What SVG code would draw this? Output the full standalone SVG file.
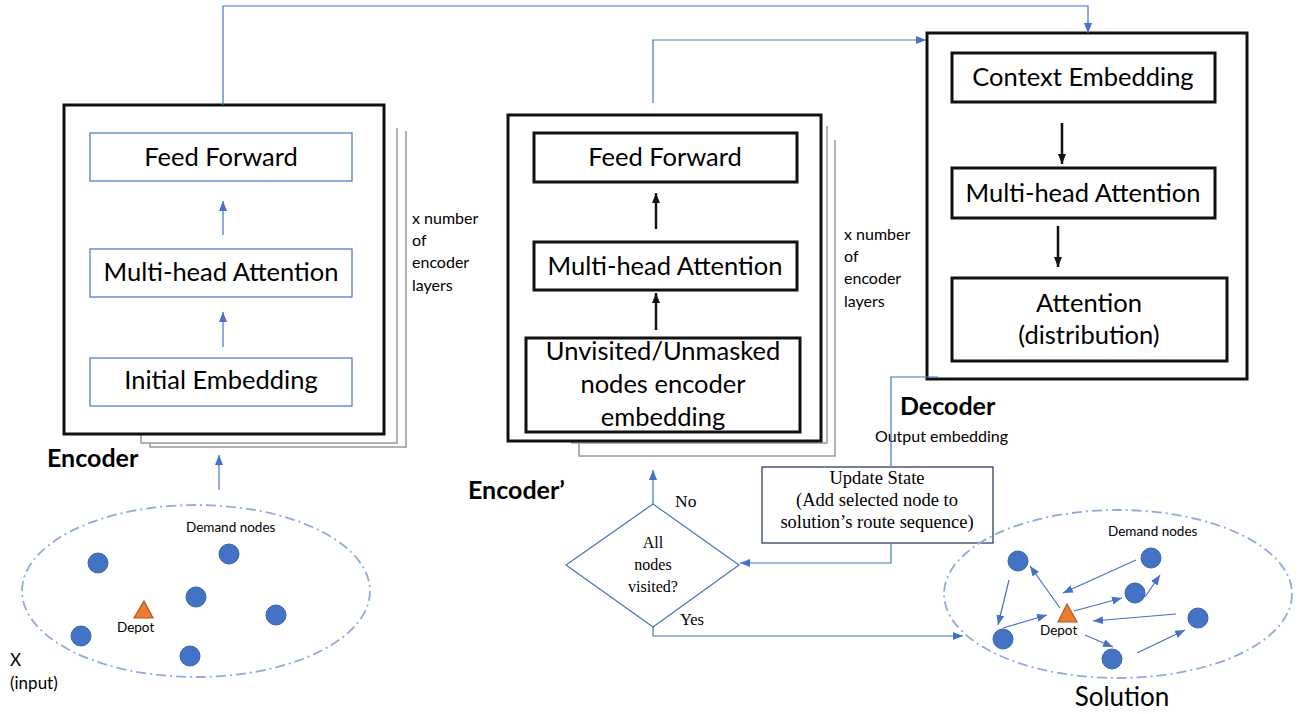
<svg xmlns="http://www.w3.org/2000/svg" width="1301" height="714" viewBox="0 0 1301 714">
<style>
.sans{font-family:Lato,"Liberation Sans",sans-serif;fill:#000}
.serif{font-family:"Liberation Serif","Times New Roman",serif;fill:#000}
.lbl{font-size:25.5px}
.small{font-size:16px}
.tiny{font-size:13.5px}
.bold{font-size:25px;font-weight:bold}
.outer{fill:#fff;stroke:#111;stroke-width:3}
.bbox{fill:#fff;stroke:#111;stroke-width:3}
.blbox{fill:#fff;stroke:#4472c4;stroke-width:1.2}
.stack{fill:none;stroke:#999;stroke-width:1.5}
.bl{fill:none;stroke:#4472c4;stroke-width:1.2}
.blk{fill:none;stroke:#111;stroke-width:2.5}
.ell{fill:none;stroke:#8faadc;stroke-width:1.8;stroke-dasharray:10 4 2 4}
.node{fill:#4472c4;stroke:#3a63ad;stroke-width:1}
.depot{fill:#ed7d31;stroke:#ae5a21;stroke-width:1.2}
</style>
<defs>
<marker id="ab" markerUnits="userSpaceOnUse" markerWidth="10" markerHeight="10" refX="10" refY="5" orient="auto"><path d="M0,1 L10,5 L0,9 z" fill="#4472c4"/></marker>
<marker id="ak" markerUnits="userSpaceOnUse" markerWidth="10" markerHeight="10" refX="10" refY="5" orient="auto"><path d="M0,1 L10,5 L0,9 z" fill="#111"/></marker>
</defs>

<g id="encoder">
<polyline class="stack" points="150,443 150,447 406,447 406,131"/>
<polyline class="stack" points="141,433 141,443 397,443 397,128"/>
<rect class="outer" x="64" y="105" width="320" height="329"/>
<rect class="blbox" x="90" y="133" width="262" height="48"/>
<text class="sans lbl" x="221" y="166" text-anchor="middle">Feed Forward</text>
<rect class="blbox" x="90" y="249" width="262" height="48"/>
<text class="sans lbl" x="221" y="281" text-anchor="middle">Multi-head Attention</text>
<rect class="blbox" x="90" y="358" width="262" height="48"/>
<text class="sans lbl" x="221" y="389" text-anchor="middle">Initial Embedding</text>
<line class="bl" x1="223" y1="235" x2="223" y2="201" marker-end="url(#ab)"/>
<line class="bl" x1="223" y1="347" x2="223" y2="312" marker-end="url(#ab)"/>
<text class="sans small" x="412" y="224">x number</text>
<text class="sans small" x="412" y="246">of</text>
<text class="sans small" x="412" y="268">encoder</text>
<text class="sans small" x="412" y="291">layers</text>
<text class="sans bold" x="47" y="467">Encoder</text>
</g>

<g id="encoder2">
<polyline class="stack" points="579,443 579,456 835,456 835,140"/>
<polyline class="stack" points="572,433 572,443 827,443 827,126"/>
<rect class="outer" x="508" y="115" width="313" height="326"/>
<rect class="bbox" x="534" y="133" width="263" height="49"/>
<text class="sans lbl" x="665" y="166" text-anchor="middle">Feed Forward</text>
<rect class="bbox" x="534" y="242" width="263" height="48"/>
<text class="sans lbl" x="665" y="275" text-anchor="middle">Multi-head Attention</text>
<rect class="bbox" x="526" y="338" width="274" height="94"/>
<text class="sans lbl" x="663" y="360" text-anchor="middle">Unvisited/Unmasked</text>
<text class="sans lbl" x="663" y="393" text-anchor="middle">nodes encoder</text>
<text class="sans lbl" x="663" y="426" text-anchor="middle">embedding</text>
<line class="blk" x1="656" y1="229" x2="656" y2="193" marker-end="url(#ak)"/>
<line class="blk" x1="656" y1="330" x2="656" y2="293" marker-end="url(#ak)"/>
<text class="sans small" x="844" y="240">x number</text>
<text class="sans small" x="844" y="262">of</text>
<text class="sans small" x="844" y="284">encoder</text>
<text class="sans small" x="844" y="307">layers</text>
<text class="sans bold" x="468" y="499">Encoder’</text>
</g>

<g id="decoder">
<rect class="outer" x="927" y="33" width="320" height="346"/>
<rect class="bbox" x="952" y="53" width="263" height="49"/>
<text class="sans lbl" x="1083" y="86" text-anchor="middle">Context Embedding</text>
<rect class="bbox" x="952" y="168" width="263" height="50"/>
<text class="sans lbl" x="1083" y="202" text-anchor="middle">Multi-head Attention</text>
<rect class="bbox" x="952" y="278" width="275" height="83"/>
<text class="sans lbl" x="1089" y="312" text-anchor="middle">Attention</text>
<text class="sans lbl" x="1089" y="344" text-anchor="middle">(distribution)</text>
<line class="blk" x1="1062" y1="123" x2="1062" y2="164" marker-end="url(#ak)"/>
<line class="blk" x1="1058" y1="226" x2="1058" y2="267" marker-end="url(#ak)"/>
<text class="sans bold" x="900" y="415">Decoder</text>
<text class="sans small" x="875" y="442">Output embedding</text>
</g>

<g id="update">
<rect x="762" y="467" width="231" height="76" fill="#fff" stroke="#1f2f5a" stroke-width="1.2"/>
<text class="serif" font-size="18.5" x="877" y="484" text-anchor="middle">Update State</text>
<text class="serif" font-size="18.5" x="877" y="506" text-anchor="middle">(Add selected node to</text>
<text class="serif" font-size="18.5" x="877" y="528" text-anchor="middle">solution’s route sequence)</text>
</g>

<g id="decision">
<polygon points="566,565 653,504 739,565 653,627" fill="#fff" stroke="#4472c4" stroke-width="1.2"/>
<text class="serif" font-size="16" x="653" y="548" text-anchor="middle">All</text>
<text class="serif" font-size="16" x="653" y="570" text-anchor="middle">nodes</text>
<text class="serif" font-size="16" x="653" y="592" text-anchor="middle">visited?</text>
<text class="serif" font-size="17.5" x="675" y="507">No</text>
<text class="serif" font-size="16.5" x="680" y="625">Yes</text>
</g>

<g id="input">
<ellipse class="ell" cx="196" cy="591" rx="174" ry="86"/>
<circle class="node" cx="98" cy="563" r="10"/>
<circle class="node" cx="229" cy="554" r="10"/>
<circle class="node" cx="196" cy="597" r="10"/>
<circle class="node" cx="276" cy="615" r="10"/>
<circle class="node" cx="81" cy="636" r="10"/>
<circle class="node" cx="190" cy="656" r="10"/>
<polygon class="depot" points="144,601 134,618 153,618"/>
<text class="sans tiny" x="117" y="632">Depot</text>
<text class="sans tiny" x="186" y="532">Demand nodes</text>
<text class="sans" font-size="17" x="10" y="666">X</text>
<text class="sans" font-size="17" x="10" y="689">(input)</text>
</g>

<g id="solution">
<ellipse class="ell" cx="1118" cy="594" rx="174" ry="84"/>
<circle class="node" cx="1018" cy="561" r="10"/>
<circle class="node" cx="1151" cy="558" r="10"/>
<circle class="node" cx="1135" cy="593" r="10"/>
<circle class="node" cx="1198" cy="618" r="10"/>
<circle class="node" cx="1003" cy="639" r="10"/>
<circle class="node" cx="1112" cy="659" r="10"/>
<polygon class="depot" points="1067,604 1058,622 1077,622"/>
<text class="sans tiny" x="1040" y="635">Depot</text>
<text class="sans tiny" x="1108" y="536">Demand nodes</text>
<text class="sans" font-size="26" x="1122" y="706" text-anchor="middle">Solution</text>
<g class="bl">
<line x1="1060" y1="608" x2="1030" y2="566" marker-end="url(#ab)"/>
<line x1="1009" y1="580" x2="998" y2="625" marker-end="url(#ab)"/>
<line x1="1003" y1="628" x2="1047" y2="615" marker-end="url(#ab)"/>
<line x1="1136" y1="560" x2="1063" y2="593" marker-end="url(#ab)"/>
<line x1="1074" y1="611" x2="1122" y2="598" marker-end="url(#ab)"/>
<line x1="1145" y1="597" x2="1160" y2="575" marker-end="url(#ab)"/>
<line x1="1176" y1="614" x2="1093" y2="621" marker-end="url(#ab)"/>
<line x1="1085" y1="635" x2="1113" y2="647" marker-end="url(#ab)"/>
<line x1="1137" y1="653" x2="1185" y2="630" marker-end="url(#ab)"/>
</g>
</g>

<g id="connectors" class="bl">
<polyline points="223,105 223,6 1088,6 1088,33" marker-end="url(#ab)"/>
<polyline points="653,103 653,40 926,40" marker-end="url(#ab)"/>
<line x1="219" y1="490" x2="219" y2="455" marker-end="url(#ab)"/>
<polyline points="938,377 891,377 891,467"/>
<polyline points="891,543 891,563 740,563" marker-end="url(#ab)"/>
<line x1="653" y1="504" x2="653" y2="470" marker-end="url(#ab)"/>
<polyline points="653,627 653,636 963,636" marker-end="url(#ab)"/>
</g>
</svg>
